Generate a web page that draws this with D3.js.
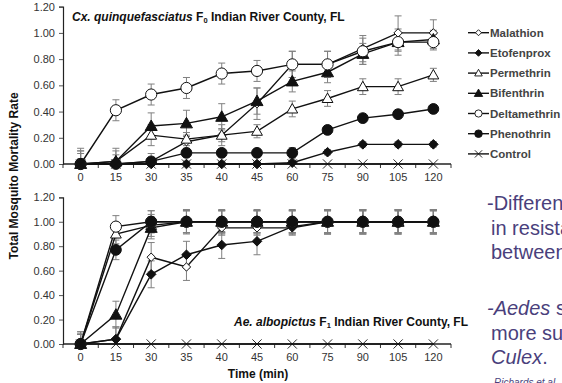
<!DOCTYPE html>
<html>
<head>
<meta charset="utf-8">
<script src="https://cdn.jsdelivr.net/npm/d3@7"></script>
<style>
  html, body { margin: 0; padding: 0; background: #fff; }
  svg { display: block; font-family: "Liberation Sans", Arial, sans-serif; }
</style>
</head>
<body>
<svg id="chart" width="562" height="383"></svg>
<script>
// ---------- DATA ----------
const categories = ["0","15","30","35","40","45","60","75","90","105","120"];
const seriesNames = ["Malathion","Etofenprox","Permethrin","Bifenthrin","Deltamethrin","Phenothrin","Control"];
const yTicks = [0, 0.2, 0.4, 0.6, 0.8, 1.0, 1.2];

// Cx. quinquefasciatus F0 (top panel)
const cxMalathion    = [0, 0.00, 0.02, 0.17, 0.22, 0.46, 0.76, 0.76, 0.88, 1.00, 1.00];
const cxEtofenprox   = [0, 0.00, 0.00, 0.00, 0.00, 0.00, 0.01, 0.09, 0.15, 0.15, 0.15];
const cxPermethrin   = [0, 0.02, 0.22, 0.19, 0.22, 0.25, 0.42, 0.50, 0.59, 0.59, 0.68];
const cxBifenthrin   = [0, 0.02, 0.29, 0.31, 0.36, 0.48, 0.63, 0.70, 0.84, 0.93, 0.95];
const cxDeltamethrin = [0, 0.41, 0.53, 0.58, 0.69, 0.71, 0.76, 0.76, 0.86, 0.93, 0.93];
const cxPhenothrin   = [0, 0.00, 0.02, 0.085, 0.085, 0.085, 0.085, 0.26, 0.35, 0.38, 0.42];
const cxControl      = [0, 0, 0, 0, 0, 0, 0, 0, 0, 0, 0];

const cxMalathionErr    = [0.12, 0.10, 0.06, 0.05, 0.08, 0.12, 0.10, 0.10, 0.10, 0.13, 0.10];
const cxEtofenproxErr   = [0.02, 0.02, 0.02, 0.02, 0.02, 0.02, 0.02, 0.02, 0.02, 0.02, 0.02];
const cxPermethrinErr   = [0.08, 0.05, 0.08, 0.05, 0.05, 0.05, 0.06, 0.06, 0.06, 0.06, 0.05];
const cxBifenthrinErr   = [0.10, 0.10, 0.10, 0.10, 0.10, 0.10, 0.08, 0.08, 0.08, 0.07, 0.07];
const cxDeltamethrinErr = [0.10, 0.08, 0.08, 0.08, 0.08, 0.08, 0.10, 0.10, 0.10, 0.10, 0.06];
const cxPhenothrinErr   = [0.04, 0.03, 0.03, 0.03, 0.03, 0.03, 0.04, 0.03, 0.03, 0.03, 0.03];
const cxControlErr      = [0, 0, 0, 0, 0, 0, 0, 0, 0, 0, 0];

// Ae. albopictus F1 (bottom panel)
const aeMalathion    = [0, 0.04, 0.71, 0.63, 0.95, 0.95, 0.95, 1, 1, 1, 1];
const aeEtofenprox   = [0, 0.04, 0.57, 0.73, 0.81, 0.84, 0.96, 1, 1, 1, 1];
const aePermethrin   = [0, 0.90, 0.97, 1, 1, 1, 1, 1, 1, 1, 1];
const aeBifenthrin   = [0, 0.24, 0.95, 1, 1, 1, 1, 1, 1, 1, 1];
const aeDeltamethrin = [0, 0.96, 1, 1, 1, 1, 1, 1, 1, 1, 1];
const aePhenothrin   = [0, 0.77, 1, 1, 1, 1, 1, 1, 1, 1, 1];
const aeControl      = [0, 0, 0, 0, 0, 0, 0, 0, 0, 0, 0];

const aeMalathionErr    = [0.10, 0.10, 0.12, 0.11, 0.06, 0.06, 0.06, 0.10, 0.10, 0.10, 0.10];
const aeEtofenproxErr   = [0.08, 0.10, 0.11, 0.11, 0.11, 0.11, 0.06, 0.10, 0.10, 0.10, 0.10];
const aePermethrinErr   = [0.08, 0.08, 0.09, 0.09, 0.09, 0.09, 0.09, 0.09, 0.09, 0.09, 0.09];
const aeBifenthrinErr   = [0.08, 0.11, 0.09, 0.09, 0.09, 0.09, 0.09, 0.09, 0.09, 0.09, 0.09];
const aeDeltamethrinErr = [0.10, 0.09, 0.09, 0.09, 0.09, 0.09, 0.09, 0.09, 0.09, 0.09, 0.09];
const aePhenothrinErr   = [0.08, 0.08, 0.09, 0.10, 0.10, 0.10, 0.10, 0.10, 0.10, 0.10, 0.10];
const aeControlErr      = [0, 0, 0, 0, 0, 0, 0, 0, 0, 0, 0];

const cxValues = [cxMalathion, cxEtofenprox, cxPermethrin, cxBifenthrin, cxDeltamethrin, cxPhenothrin, cxControl];
const cxErrors = [cxMalathionErr, cxEtofenproxErr, cxPermethrinErr, cxBifenthrinErr, cxDeltamethrinErr, cxPhenothrinErr, cxControlErr];
const aeValues = [aeMalathion, aeEtofenprox, aePermethrin, aeBifenthrin, aeDeltamethrin, aePhenothrin, aeControl];
const aeErrors = [aeMalathionErr, aeEtofenproxErr, aePermethrinErr, aeBifenthrinErr, aeDeltamethrinErr, aePhenothrinErr, aeControlErr];

// ---------- STYLE ----------
const markerKinds = ["diamondOpen","diamondFilled","triangleOpen","triangleFilled","circleOpen","circleFilled","x"];
const chartSizes  = [4.2, 4.8, 5.4, 6.0, 5.6, 5.4, 4.6];
const legendSizes = [3.0, 3.4, 3.8, 4.2, 3.6, 3.8, 3.6];
const lineColor = "#111";
const errColor = "#808080";

function markerPath(kind, s) {
  if (kind.startsWith("diamond")) return `M0,${-s}L${s},0L0,${s}L${-s},0Z`;
  if (kind.startsWith("triangle")) { const h = s * 1.0; return `M0,${-h}L${s},${h*0.75}L${-s},${h*0.75}Z`; }
  if (kind.startsWith("circle")) return `M${s},0A${s},${s} 0 1,1 ${-s},0A${s},${s} 0 1,1 ${s},0Z`;
  return `M${-s},${-s}L${s},${s}M${-s},${s}L${s},${-s}`;
}
function markerFill(kind) {
  if (kind === "x") return "none";
  return kind.endsWith("Open") ? "#fff" : lineColor;
}

const svg = d3.select("#chart");

const x = d3.scaleBand().domain(categories).range([63, 451]).padding(0);

function drawPanel(yRange, values, errors) {
  const y = d3.scaleLinear().domain([0, 1.2]).range(yRange);
  const g = svg.append("g");

  // y axis
  const yAxis = d3.axisLeft(y).tickValues(yTicks).tickFormat(d3.format(".2f")).tickSize(4).tickPadding(4);
  const ya = g.append("g").attr("transform", `translate(${x.range()[0]},0)`).call(yAxis);
  ya.select(".domain").attr("stroke", "#222").attr("stroke-width", 1.2);
  ya.selectAll(".tick line").attr("stroke", "#555");
  ya.selectAll("text").attr("font-size", 11).attr("fill", "#333").attr("font-family", "Liberation Sans, Arial, sans-serif");

  // x axis: labels at centers, ticks at band boundaries
  const xAxis = d3.axisBottom(x).tickSize(0).tickPadding(9);
  const xa = g.append("g").attr("transform", `translate(0,${y(0)})`).call(xAxis);
  xa.select(".domain").remove();
  xa.selectAll("text").attr("font-size", 11).attr("fill", "#333").attr("font-family", "Liberation Sans, Arial, sans-serif");
  const bounds = categories.map(c => x(c)).concat([x.range()[1]]);
  g.append("line").attr("x1", x.range()[0]).attr("x2", x.range()[1])
    .attr("y1", y(0)).attr("y2", y(0)).attr("stroke", "#222").attr("stroke-width", 1.4);
  g.selectAll(".xb").data(bounds).join("line")
    .attr("x1", d => d).attr("x2", d => d)
    .attr("y1", y(0)).attr("y2", y(0) + 4)
    .attr("stroke", "#333").attr("stroke-width", 1);

  const cx = c => x(c) + x.bandwidth() / 2;

  // error bars (clipped at the zero baseline)
  values.forEach((vals, si) => {
    const errs = errors[si];
    vals.forEach((v, i) => {
      const e = errs[i];
      if (!e) return;
      const xc = cx(categories[i]);
      const yTop = y(v + e);
      const low = v - e;
      const yBot = y(Math.max(0, low));
      const eg = g.append("g").attr("stroke", errColor).attr("stroke-width", 1);
      eg.append("line").attr("x1", xc).attr("x2", xc).attr("y1", yTop).attr("y2", yBot);
      eg.append("line").attr("x1", xc - 3.5).attr("x2", xc + 3.5).attr("y1", yTop).attr("y2", yTop);
      if (low >= 0) {
        eg.append("line").attr("x1", xc - 3.5).attr("x2", xc + 3.5).attr("y1", yBot).attr("y2", yBot);
      }
    });
  });

  // lines
  const line = d3.line().x((d, i) => cx(categories[i])).y(d => y(d));
  values.forEach((vals) => {
    g.append("path").datum(vals).attr("d", line)
      .attr("fill", "none").attr("stroke", lineColor).attr("stroke-width", 1.4);
  });

  // markers
  values.forEach((vals, si) => {
    const kind = markerKinds[si];
    g.selectAll(null).data(vals).join("path")
      .attr("transform", (d, i) => `translate(${cx(categories[i])},${y(d)})`)
      .attr("d", markerPath(kind, chartSizes[si]))
      .attr("fill", markerFill(kind))
      .attr("stroke", lineColor)
      .attr("stroke-width", kind === "x" ? 0.9 : 1);
  });
  return y;
}

drawPanel([164, 6.7], cxValues, cxErrors);
drawPanel([344, 197.3], aeValues, aeErrors);

// panel titles
const t1 = svg.append("text").attr("x", 72).attr("y", 21).attr("font-size", 12).attr("font-weight", "bold").attr("fill", "#111");
t1.append("tspan").attr("font-style", "italic").text("Cx. quinquefasciatus ");
t1.append("tspan").text("F");
t1.append("tspan").attr("font-size", 7.5).attr("dy", 2).text("0");
t1.append("tspan").attr("dy", -2).text(" Indian River County, FL");

const t2 = svg.append("text").attr("x", 468).attr("y", 326).attr("text-anchor", "end").attr("font-size", 12).attr("font-weight", "bold").attr("fill", "#111");
t2.append("tspan").attr("font-style", "italic").text("Ae. albopictus ");
t2.append("tspan").text("F");
t2.append("tspan").attr("font-size", 7.5).attr("dy", 2).text("1");
t2.append("tspan").attr("dy", -2).text(" Indian River County, FL");

// axis titles
svg.append("text").attr("transform", "translate(18,176) rotate(-90)")
  .attr("text-anchor", "middle").attr("font-size", 12).attr("font-weight", "bold").attr("fill", "#111")
  .text("Total Mosquito Mortality Rate");
svg.append("text").attr("x", 258).attr("y", 378).attr("text-anchor", "middle")
  .attr("font-size", 12).attr("font-weight", "bold").attr("fill", "#111").text("Time (min)");

// legend
const legend = svg.append("g");
seriesNames.forEach((name, i) => {
  const ly = 32.7 + i * 20.2;
  const lg = legend.append("g").attr("transform", `translate(468,${ly})`);
  lg.append("line").attr("x1", 0).attr("x2", 21).attr("y1", 0).attr("y2", 0).attr("stroke", lineColor).attr("stroke-width", 1.4);
  const kind = markerKinds[i];
  lg.append("path").attr("transform", "translate(10.5,0)").attr("d", markerPath(kind, legendSizes[i]))
    .attr("fill", markerFill(kind)).attr("stroke", lineColor).attr("stroke-width", 0.9);
  lg.append("text").attr("x", 22).attr("y", 4).attr("font-size", 11.5).attr("font-weight", "bold")
    .attr("fill", "#444").text(name);
});

// side slide text (cut by the right edge, as in the original slide)
const sideColor = "#4a3f7c";
const side = [
  { x: 487, y: 210, parts: [["-Differences", false]] },
  { x: 491, y: 235, parts: [["in resistance", false]] },
  { x: 491, y: 259, parts: [["between", false]] },
  { x: 487, y: 315, parts: [["-Aedes", true], [" spp. were", false]] },
  { x: 491, y: 340, parts: [["more susceptible", false]] },
  { x: 491, y: 364, parts: [["Culex", true], [".", false]] }
];
side.forEach(l => {
  const t = svg.append("text").attr("x", l.x).attr("y", l.y).attr("font-size", 20).attr("fill", sideColor);
  l.parts.forEach(p => t.append("tspan").attr("font-style", p[1] ? "italic" : "normal").text(p[0]));
});
svg.append("text").attr("x", 494).attr("y", 386).attr("font-size", 10).attr("font-style", "italic")
  .attr("fill", sideColor).text("Richards et al.");
</script>
</body>
</html>
